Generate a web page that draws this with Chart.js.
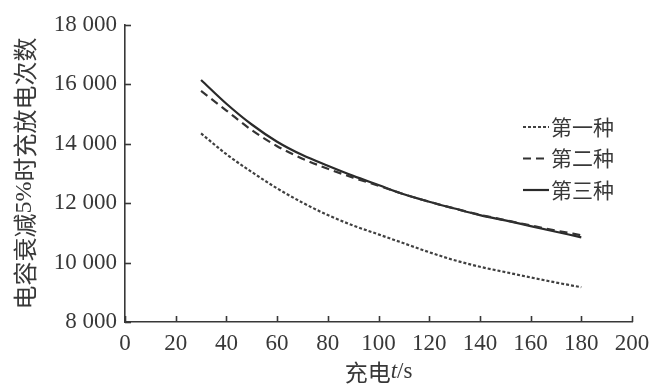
<!DOCTYPE html>
<html><head><meta charset="utf-8">
<script src="https://cdn.jsdelivr.net/npm/chart.js@4/dist/chart.umd.min.js"></script>
<style>html,body{margin:0;padding:0;background:#fff}#wrap{width:658px;height:389px}</style>
</head><body><div id="wrap"><canvas id="c" width="658" height="389"></canvas></div>
<script>
const chargeTimes = [30,40,50,60,70,80,90,100,110,120,130,140,150,160,170,180];
const type1 = [14350,13650,13050,12500,12020,11600,11250,10950,10650,10350,10080,9860,9680,9500,9330,9170];
const type2 = [15780,15120,14460,13920,13500,13160,12860,12590,12300,12050,11820,11610,11430,11250,11080,10920];
const type3 = [16150,15350,14650,14070,13620,13260,12920,12610,12300,12050,11820,11600,11420,11230,11040,10850];
const seriesNames = ['第一种','第二种','第三种'];
const xTickValues = [0,20,40,60,80,100,120,140,160,180,200];
const xTickLabels = ['0','20','40','60','80','100','120','140','160','180','200'];
const yTickValues = [8000,10000,12000,14000,16000,18000];
const yTickLabels = ['8 000','10 000','12 000','14 000','16 000','18 000'];
const yTitleParts = ['电容衰减','5%','时充放电次数'];
const xTitleParts = ['充电','t','/s'];

const INK = '#383838';
const CJK = '"Noto Sans CJK SC", sans-serif';
const SERIF = '"Liberation Serif", serif';

function toPts(ys){ return chargeTimes.map((x,i)=>({x:x,y:ys[i]})); }

const extras = {
  id:'extras',
  afterDraw(chart){
    const ctx = chart.ctx, xs = chart.scales.x, ys = chart.scales.y, ca = chart.chartArea;
    ctx.save();
    ctx.strokeStyle = INK; ctx.lineWidth = 1.6;
    // inward ticks
    yTickValues.forEach(v=>{ const p = Math.round(ys.getPixelForValue(v))+0.5; ctx.beginPath(); ctx.moveTo(ca.left, p); ctx.lineTo(ca.left+6, p); ctx.stroke(); });
    xTickValues.forEach(v=>{ const p = Math.round(xs.getPixelForValue(v))+0.5; ctx.beginPath(); ctx.moveTo(p, ca.bottom); ctx.lineTo(p, ca.bottom-6); ctx.stroke(); });
    // y title
    ctx.fillStyle = INK; ctx.textBaseline = 'middle';
    const yFonts = ['24px '+CJK, '24px '+SERIF, '24px '+CJK];
    let tw = 0; const ws = yTitleParts.map((t,i)=>{ ctx.font = yFonts[i]; const w = ctx.measureText(t).width; tw += w; return w; });
    ctx.translate(25, (ca.top+ca.bottom)/2); ctx.rotate(-Math.PI/2);
    let cx = -tw/2; ctx.textAlign = 'left';
    yTitleParts.forEach((t,i)=>{ ctx.font = yFonts[i]; ctx.fillText(t, cx, 0); cx += ws[i]; });
    ctx.setTransform(1,0,0,1,0,0);
    // x title
    const xFonts = ['23px '+CJK, 'italic 23px '+SERIF, '23px '+SERIF];
    tw = 0; const wx = xTitleParts.map((t,i)=>{ ctx.font = xFonts[i]; const w = ctx.measureText(t).width; tw += w; return w; });
    cx = (ca.left+ca.right)/2 - tw/2;
    xTitleParts.forEach((t,i)=>{ ctx.font = xFonts[i]; ctx.fillText(t, cx, 372); cx += wx[i]; });
    // legend
    ctx.font = '21px '+CJK;
    chart.data.datasets.forEach((ds,i)=>{
      const y = 127 + i*31.5;
      ctx.save(); ctx.strokeStyle = ds.borderColor; ctx.lineWidth = ds.borderWidth; ctx.setLineDash(ds.borderDash||[]);
      ctx.beginPath(); ctx.moveTo(523, y); ctx.lineTo(549, y); ctx.stroke(); ctx.restore();
      ctx.fillStyle = INK; ctx.textAlign = 'left'; ctx.fillText(ds.label, 551, y);
    });
    ctx.restore();
  }
};

new Chart(document.getElementById('c'), {
  type:'line',
  data:{ datasets:[
    {label:seriesNames[0], data:toPts(type1), borderColor:'#404040', borderWidth:2.2, borderDash:[3,2], pointRadius:0, cubicInterpolationMode:'monotone', fill:false},
    {label:seriesNames[1], data:toPts(type2), borderColor:'#333', borderWidth:2.2, borderDash:[8,5], pointRadius:0, cubicInterpolationMode:'monotone', fill:false},
    {label:seriesNames[2], data:toPts(type3), borderColor:'#2a2a2a', borderWidth:2.2, pointRadius:0, cubicInterpolationMode:'monotone', fill:false}
  ]},
  options:{
    responsive:false, animation:false, devicePixelRatio:1,
    layout:{padding:{top:25,right:26,left:0,bottom:0}},
    plugins:{legend:{display:false}, tooltip:{enabled:false}},
    scales:{
      x:{type:'linear', min:0, max:200,
        afterBuildTicks:(s)=>{ s.ticks = xTickValues.map(v=>({value:v})); },
        afterFit:(s)=>{ s.height = 67; },
        ticks:{ callback:(v)=>{ const i = xTickValues.indexOf(v); return i>=0 ? xTickLabels[i] : ''; }, autoSkip:false, maxRotation:0, padding:8, color:INK, font:{family:'Liberation Serif', size:23} },
        grid:{display:false, drawTicks:false},
        border:{display:true, color:INK, width:1.6}
      },
      y:{type:'linear', min:8000, max:18000,
        afterBuildTicks:(s)=>{ s.ticks = yTickValues.map(v=>({value:v})); },
        afterFit:(s)=>{ s.width = 125; },
        ticks:{ callback:(v)=>{ const i = yTickValues.indexOf(v); return i>=0 ? yTickLabels[i] : ''; }, padding:8, color:INK, font:{family:'Liberation Serif', size:23} },
        grid:{display:false, drawTicks:false},
        border:{display:true, color:INK, width:1.6}
      }
    }
  },
  plugins:[extras]
});
</script></body></html>
